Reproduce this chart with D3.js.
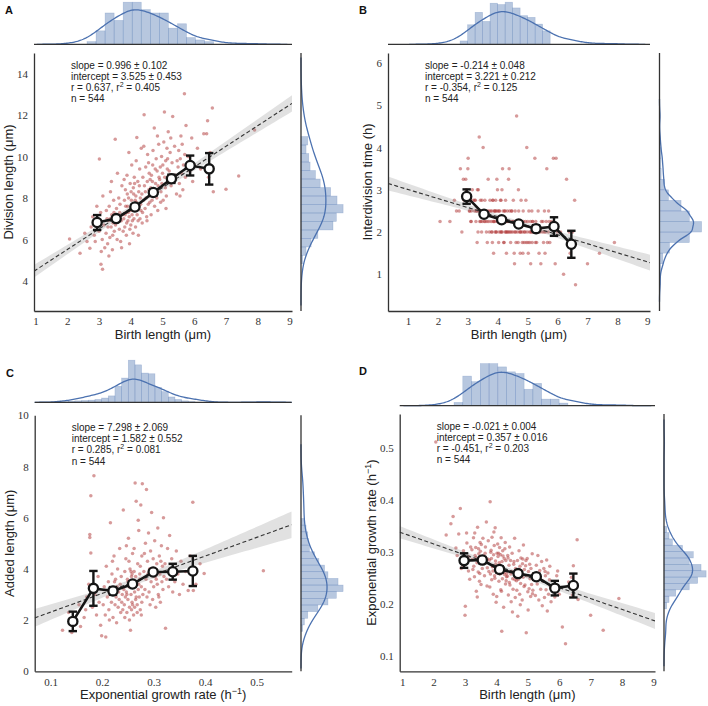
<!DOCTYPE html>
<html><head><meta charset="utf-8">
<script src="https://cdn.jsdelivr.net/npm/d3@7"></script>
<style>body{margin:0;background:#fff}svg{display:block}</style>
</head><body>
<svg id="chart" width="708" height="706"></svg>
<script>
// ================= DATA =================
// Shared per-cell values for panels A, B, D
const birthLength = [
 2.07,2.40,2.55,2.62,
 2.71,2.75,2.80,2.85,2.88,
 2.95,3.01,3.06,3.11,3.07,3.00,3.05,3.10,3.15,3.18,2.93,3.12,
 3.22,3.25,3.27,3.30,3.32,3.34,3.36,3.38,3.40,3.42,3.44,3.46,3.48,3.23,3.28,3.31,3.35,3.39,3.43,3.47,3.49,
 3.51,3.52,3.55,3.57,3.60,3.62,3.64,3.66,3.68,3.70,3.72,3.74,3.76,3.58,3.65,3.71,
 3.78,3.80,3.81,3.83,3.85,3.86,3.88,3.90,3.91,3.93,3.95,3.96,3.98,3.99,4.00,4.02,4.03,4.04,3.79,3.84,3.87,3.92,3.94,3.97,4.01,3.82,3.89,4.05,
 4.06,4.08,4.10,4.11,4.13,4.15,4.16,4.18,4.19,4.20,4.22,4.23,4.25,4.26,4.28,4.29,4.30,4.32,4.07,4.12,4.14,4.17,4.21,4.24,4.27,4.31,4.09,4.33,
 4.35,4.37,4.38,4.40,4.42,4.43,4.45,4.47,4.48,4.50,4.52,4.53,4.55,4.57,4.58,4.60,4.61,4.36,4.41,4.46,4.51,4.56,4.59,
 4.63,4.65,4.67,4.68,4.70,4.72,4.74,4.75,4.77,4.78,4.80,4.82,4.83,4.85,4.86,4.88,4.89,4.64,4.69,4.76,4.84,
 4.91,4.93,4.95,4.97,4.98,5.00,5.02,5.04,5.06,5.07,5.09,5.10,5.12,5.14,5.15,5.17,5.18,4.94,5.01,5.11,5.16,
 5.21,5.24,5.27,5.30,5.32,5.35,5.38,5.41,5.44,5.46,5.26,
 5.49,5.51,5.53,5.56,5.58,5.60,5.62,5.64,5.66,5.69,5.70,5.72,5.74,5.55,
 5.80,5.86,5.92,6.00,5.95,
 6.10,6.20,6.30,
 6.39,6.42,6.45,6.57,6.60,6.50,
 7.00,7.40,7.90];

const divisionLength = [
 6.03,5.34,6.30,5.90,
 5.58,6.60,7.10,6.20,5.90,
 6.90,9.88,4.81,4.56,5.42,6.40,7.30,6.00,6.70,5.60,7.60,8.10,
 6.3,7.0,5.8,6.9,7.6,6.1,8.3,6.6,7.2,5.5,6.8,7.9,6.4,7.4,6.6,5.2,7.0,8.8,6.2,7.3,6.9,
 10.84,6.7,7.5,6.0,7.1,8.0,6.5,7.7,5.9,6.9,8.6,7.2,6.4,9.2,7.3,5.6,
 7.0,7.9,6.6,8.4,7.3,6.2,9.1,7.6,6.9,8.0,7.1,5.8,8.7,7.4,6.7,7.9,9.6,7.2,8.9,7.6,6.8,7.3,10.2,6.5,8.3,7.2,8.2,6.9,
 7.7,8.5,7.0,9.0,7.5,6.6,8.1,7.8,10.92,7.2,8.8,6.9,8.3,7.6,9.4,7.0,8.0,7.4,6.3,8.7,7.9,9.8,7.6,6.2,8.6,7.7,8.2,10.4,
 8.2,7.3,9.0,7.9,12.02,8.6,7.5,9.5,8.0,7.1,8.8,10.1,7.7,8.4,9.2,7.8,8.9,6.8,10.5,8.3,6.9,9.7,8.1,
 8.5,9.1,7.9,8.8,10.3,8.2,11.38,7.6,9.4,8.7,9.9,8.0,9.3,7.4,8.6,10.6,9.0,7.2,9.6,8.4,11.0,
 8.9,9.5,8.3,10.0,8.7,9.2,7.9,10.7,12.15,9.0,8.5,9.8,8.1,10.4,9.4,8.8,11.2,7.8,9.6,7.5,9.9,
 9.3,10.2,8.6,9.7,11.94,8.9,10.5,9.1,8.2,9.8,10.9,
 9.5,10.3,8.7,9.9,11.0,9.2,10.6,8.4,9.6,13.03,10.1,9.0,11.5,8.1,
 10.0,9.3,10.9,9.6,8.8,
 10.4,9.4,11.1,
 11.1,11.73,9.0,12.34,8.3,10.2,
 8.43,9.07,11.29];

const interdivisionTime = [
 2.25,2.25,2.75,2.5,
 2.5,3.5,2.0,3.25,2.75,
 3.0,3.75,2.5,2.25,2.75,3.5,2.5,2.25,3.0,2.75,3.25,2.5,
 2.5,2.75,2.25,2.5,3.0,2.0,2.5,4.25,2.25,2.75,2.5,2.0,2.25,2.75,2.5,1.75,3.0,2.5,2.25,2.75,2.5,
 4.0,2.5,2.25,2.75,2.5,2.0,2.25,2.5,3.25,2.25,2.0,2.75,2.5,2.25,1.75,2.5,
 2.25,2.5,2.0,2.75,2.25,1.5,2.5,2.25,2.0,2.75,2.5,2.0,2.25,3.0,2.5,2.25,1.75,2.5,2.0,2.75,2.25,2.5,2.0,3.25,2.25,1.75,2.5,2.0,
 2.5,2.25,2.0,2.75,2.25,2.0,3.5,2.5,2.25,1.75,2.25,2.5,2.0,2.75,2.25,1.5,2.0,2.5,2.25,2.0,3.0,2.25,1.75,2.5,2.0,2.25,2.75,2.0,
 2.25,2.0,3.5,2.5,2.25,1.75,2.0,2.5,2.25,2.0,2.75,2.25,1.5,2.0,2.5,2.25,1.75,3.25,2.0,2.5,2.25,1.25,2.0,
 4.75,2.0,2.25,1.75,2.5,2.0,2.25,1.5,2.0,2.75,2.25,1.75,2.0,2.5,2.25,1.75,2.0,2.25,3.0,2.0,1.5,
 2.0,2.25,1.75,4.0,2.0,2.25,1.5,2.5,2.0,1.75,2.25,1.25,2.0,2.5,1.75,2.25,2.0,2.75,1.75,2.0,2.25,
 2.0,3.75,2.25,1.75,2.0,2.5,1.5,2.0,1.25,2.25,1.75,
 2.0,2.25,1.75,2.5,1.5,2.0,2.25,3.5,1.75,2.0,2.5,2.25,1.75,2.0,
 2.25,3.75,1.25,2.0,3.75,
 2.0,1.0,3.25,
 2.0,1.5,1.75,2.75,0.75,2.0,
 1.25,1.5,1.75];

const growthRate = [
 0.511,0.332,0.354,0.368,
 0.307,0.293,0.334,0.383,0.268,
 0.302,0.195,0.317,0.263,0.288,0.178,0.336,0.284,0.247,0.309,0.273,0.291,
 0.304,0.266,0.327,0.252,0.293,0.308,0.224,0.279,0.347,0.261,0.296,0.243,0.318,0.285,0.272,0.336,0.289,0.213,0.306,0.258,0.301,
 0.237,0.314,0.268,0.326,0.292,0.254,0.297,0.283,0.357,0.234,0.286,0.321,0.262,0.277,0.309,0.269,
 0.284,0.396,0.257,0.303,0.246,0.328,0.273,0.218,0.294,0.312,0.249,0.346,0.276,0.203,0.268,0.297,0.259,0.315,0.232,0.287,0.271,0.338,0.254,0.282,0.214,0.299,0.263,0.291,
 0.266,0.243,0.308,0.257,0.294,0.327,0.224,0.281,0.248,0.302,0.269,0.193,0.287,0.256,0.318,0.238,0.283,0.252,0.297,0.274,0.227,0.147,0.292,0.261,0.306,0.244,0.279,0.258,
 0.253,0.288,0.217,0.274,0.309,0.236,0.283,0.204,0.262,0.297,0.248,0.228,0.276,0.259,0.326,0.212,0.268,0.293,0.241,0.257,0.184,0.281,0.246,
 0.264,0.226,0.283,0.176,0.247,0.302,0.218,0.272,0.239,0.288,0.256,0.207,0.277,0.251,0.313,0.233,0.266,0.244,0.259,0.198,0.286,
 0.236,0.273,0.144,0.254,0.287,0.223,0.262,0.229,0.276,0.248,0.214,0.268,0.237,0.296,0.219,0.257,0.246,0.283,0.188,0.252,0.226,
 0.247,0.216,0.274,0.238,0.293,0.207,0.264,0.228,0.281,0.196,0.253,
 0.243,0.268,0.212,0.254,0.227,0.284,0.186,0.259,0.218,0.246,0.272,0.233,0.204,0.262,
 0.227,0.213,0.254,0.218,0.263,
 0.155,0.123,0.242,
 0.251,0.217,0.273,0.323,0.208,0.238,
 0.178,0.149,0.210];

// Panel C values
const growthRateC = [
 0.123,0.141,0.135,0.148,0.155,0.158,
 0.176,0.176,0.178,0.184,0.178,0.165,0.170,0.174,0.181,0.186,0.189,0.192,0.194,0.197,0.199,0.168,
 0.207,0.202,0.204,0.206,0.208,0.210,0.212,0.213,0.215,0.216,0.218,0.219,0.221,0.222,0.223,0.225,0.226,0.227,0.228,0.229,0.230,0.231,0.232,0.233,0.234,0.235,0.236,0.237,0.238,0.239,0.214,0.220,0.224,0.241,0.240,
 0.242,0.243,0.244,0.245,0.246,0.247,0.248,0.249,0.250,0.251,0.252,0.253,0.254,0.255,0.256,0.257,0.258,0.259,0.260,0.261,0.262,0.263,0.264,0.265,0.266,0.267,0.268,0.269,0.270,0.271,0.272,0.273,0.274,0.275,0.276,0.277,0.278,0.279,
 0.244,0.247,0.250,0.253,0.256,0.259,0.262,0.265,0.268,0.271,0.274,0.277,
 0.248,0.252,0.257,0.261,0.266,0.270,0.273,0.276,0.258,0.263,
 0.281,0.282,0.283,0.284,0.285,0.286,0.287,0.288,0.289,0.290,0.291,0.292,0.293,0.294,0.295,0.296,0.297,0.298,0.299,0.300,0.302,0.303,0.304,0.306,0.307,0.308,0.309,0.311,0.312,0.313,0.315,0.316,0.317,0.318,0.319,0.301,0.305,0.310,0.314,0.320,
 0.322,0.323,0.325,0.327,0.329,0.331,0.333,0.335,0.337,0.339,0.341,0.344,0.347,0.350,0.353,0.357,
 0.362,0.367,0.371,0.376,0.377,0.382,0.390,0.398,
 0.513];
const addedLength = [
 1.60,1.52,2.30,1.90,2.60,1.75,
 5.34,5.23,6.86,7.64,4.62,2.10,2.90,3.40,2.50,3.00,2.20,3.70,2.70,1.80,1.39,2.40,
 1.34,2.6,3.3,2.2,4.1,2.9,3.5,2.4,3.0,5.8,2.7,3.8,2.1,3.2,4.5,2.6,3.6,2.9,1.9,3.3,4.0,2.5,3.1,2.8,4.8,3.4,2.3,3.7,2.7,3.0,2.0,4.3,3.5,6.3,2.4,
 3.2,2.6,3.9,2.9,4.4,3.1,2.3,3.6,2.8,5.2,3.3,2.5,4.0,1.6,3.0,3.7,2.7,4.6,3.4,2.2,3.9,3.1,7.36,2.8,6.64,3.5,2.6,4.2,3.2,5.5,2.9,3.8,2.4,6.5,3.3,4.5,7.33,3.0,
 2.1,4.9,3.5,2.0,3.9,2.6,4.8,3.7,2.3,3.4,4.1,2.7,
 3.0,4.3,2.4,3.3,2.9,5.9,3.6,2.2,3.8,2.5,
 3.9,4.6,3.2,5.0,3.6,7.1,2.9,4.3,3.8,5.4,3.1,4.0,2.6,4.7,3.5,6.2,3.9,2.8,4.4,3.3,5.1,3.7,2.5,4.2,3.4,5.6,3.0,4.5,3.8,2.7,4.9,3.5,4.1,3.2,6.0,4.0,3.6,2.9,4.3,3.7,
 4.2,1.68,3.6,4.8,3.3,5.3,3.9,4.4,3.1,4.0,3.5,4.7,3.8,3.0,4.3,3.4,
 3.9,3.16,4.5,6.6,3.16,3.4,4.2,3.82,
 3.93];

// Binned means with error bars
const binA_x = [2.94,3.54,4.13,4.71,5.28,5.87,6.47];
const binA_y = [6.82,7.01,7.57,8.27,8.93,9.57,9.41];
const binA_err = [0.36,0.12,0.14,0.16,0.20,0.48,0.76];
const binB_x = [2.96,3.54,4.13,4.70,5.28,5.88,6.46];
const binB_y = [2.84,2.42,2.29,2.19,2.08,2.13,1.71];
const binB_err = [0.17,0.05,0.05,0.05,0.08,0.22,0.32];
const binC_x = [0.143,0.183,0.221,0.259,0.299,0.337,0.376];
const binC_y = [1.95,3.24,3.14,3.41,3.88,3.89,3.92];
const binC_err = [0.38,0.68,0.15,0.10,0.10,0.31,0.59];
const binD_x = [2.97,3.55,4.10,4.69,5.27,5.86,6.45];
const binD_y = [0.283,0.284,0.266,0.258,0.252,0.230,0.235];
const binD_err = [0.014,0.006,0.006,0.005,0.006,0.014,0.023];

// Regression statistics (A, B, C, D)
const regSlope = [0.996,-0.214,7.298,-0.021];
const regSlopeErr = [0.102,0.048,2.069,0.004];
const regIntercept = [3.525,3.221,1.582,0.357];
const regInterceptErr = [0.453,0.212,0.552,0.016];
const regR = [0.637,-0.354,0.285,-0.451];
const regR2 = [0.405,0.125,0.081,0.203];
const regN = [544,544,544,544];

// Marginal histograms: [first bin edge, bin width] and bar heights
const histTopA_bins = [2.62,0.285];
const histTopA = [8,40,93,71,125,125,103,93,93,48,61,20,13,8];
const histRightA_bins = [4.82,0.41];
const histRightA = [5,15,30,50,95,105,125,107,88,57,43,27,23,15,20];
const histTopB_bins = [2.74,0.251];
const histTopB = [10,58,95,68,122,118,125,108,85,80,60,40];
const histRightB_bins = [0.75,0.25];
const histRightB = [2,3,10,30,90,127,90,65,27,15,5,4,4];
const histTopC_bins = [0.1212,0.01295];
const histTopC = [2,3,4,5,6,8,12,18,45,68,118,105,82,80,42,30,15,8,4,2];
const histRightC_bins = [1.55,0.26];
const histRightC = [5,10,20,50,80,105,125,110,80,70,53,40,25,22,20,15,10];
const histTopD_bins = [2.65,0.279];
const histTopD = [10,90,73,128,128,118,103,98,50,68,20,20,8];
const histRightD_bins = [0.190,0.01225];
const histRightD = [8,15,35,75,100,125,110,75,87,55,25,15,8];

// Tick values
const ticksBirth = [1,2,3,4,5,6,7,8,9];
const ticksA_y = [4,6,8,10,12,14];
const ticksB_y = [1,2,3,4,5,6];
const ticksC_x = [0.1,0.2,0.3,0.4,0.5];
const ticksC_y = [0,2,4,6,8,10];
const ticksD_y = [0.1,0.2,0.3,0.4,0.5];

// Labels
const panelLetters = ["A","B","C","D"];
const xTitles = ["Birth length (μm)","Birth length (μm)","Exponential growth rate (h|−1|)","Birth length (μm)"];
const yTitles = ["Division length (μm)","Interdivision time (h)","Added length (μm)","Exponential growth rate (h|−1|)"];

// ================= LAYOUT =================
const layout = [
 {lx:5,ly:13.5,left:34,right:292,top:53,bottom:311,xDom:[0.95,9.08],yDom:[2.55,15.0],mBase:44.3,mRight:301,yOff:21.5},
 {lx:359,ly:13.5,left:388,right:650,top:53,bottom:311,xDom:[0.33,9.09],yDom:[0.13,6.24],mBase:44.3,mRight:659.5,yOff:16},
 {lx:6,ly:376.5,left:34.7,right:291.7,top:415.3,bottom:671.3,xDom:[0.069,0.568],yDom:[0,10],mBase:402.3,mRight:301,yOff:20.7},
 {lx:359,ly:375,left:399.7,right:655,top:414,bottom:671.3,xDom:[0.92,9.05],yDom:[0.07,0.565],mBase:405.7,mRight:664,yOff:24}
];

const panels = [
 {x:birthLength,y:divisionLength,bx:binA_x,by:binA_y,be:binA_err,ht:histTopA,htb:histTopA_bins,hr:histRightA,hrb:histRightA_bins,xt:ticksBirth,yt:ticksA_y},
 {x:birthLength,y:interdivisionTime,bx:binB_x,by:binB_y,be:binB_err,ht:histTopB,htb:histTopB_bins,hr:histRightB,hrb:histRightB_bins,xt:ticksBirth,yt:ticksB_y},
 {x:growthRateC,y:addedLength,bx:binC_x,by:binC_y,be:binC_err,ht:histTopC,htb:histTopC_bins,hr:histRightC,hrb:histRightC_bins,xt:ticksC_x,yt:ticksC_y},
 {x:birthLength,y:growthRate,bx:binD_x,by:binD_y,be:binD_err,ht:histTopD,htb:histTopD_bins,hr:histRightD,hrb:histRightD_bins,xt:ticksBirth,yt:ticksD_y}
];

// ================= DRAWING =================
const svg = d3.select("#chart");
const SERIF = "'Liberation Serif','Times New Roman',serif";
const SANS = "'Liberation Sans',Arial,sans-serif";
const SPINE = "#333";
const BLUE = "#4c72b0";
const MARG = 44;
const tickFmt = d => String(d);

function kdeFn(values){
  const s = values.slice().sort(d3.ascending);
  const sd = d3.deviation(s);
  const iqr = d3.quantile(s,0.75) - d3.quantile(s,0.25);
  const a = Math.min(sd, iqr > 0 ? iqr/1.349 : sd);
  const bw = 1.059 * a * Math.pow(s.length, -0.2);
  const f = x => d3.mean(s, v => Math.exp(-0.5*((x-v)/bw)**2)) / (bw*Math.sqrt(2*Math.PI));
  return {f, bw, min:s[0], max:s[s.length-1]};
}
function histDensity(h, bins){
  const tot = d3.sum(h) * bins[1];
  return h.map((v,i) => ({x0:bins[0]+i*bins[1], x1:bins[0]+(i+1)*bins[1], d:v/tot}));
}
function fmt(v){ return d3.format(".3f")(v).replace("\u2212","-"); }
function addTitle(sel, str){
  const parts = str.split("|");
  sel.append("tspan").text(parts[0]);
  if(parts.length > 1){
    sel.append("tspan").attr("dy",-5).attr("font-size",9).text(parts[1]);
    sel.append("tspan").attr("dy",5).text(parts[2]);
  }
}

panels.forEach((p, k) => {
  const L = layout[k];
  const g = svg.append("g");
  const xs = d3.scaleLinear().domain(L.xDom).range([L.left, L.right]);
  const ys = d3.scaleLinear().domain(L.yDom).range([L.bottom, L.top]);
  const n = Math.min(p.x.length, p.y.length);
  const pts = d3.range(n).map(i => [p.x[i], p.y[i]]);

  const clipId = "clip" + k;
  svg.append("clipPath").attr("id", clipId).append("rect")
    .attr("x", L.left).attr("y", L.top).attr("width", L.right-L.left).attr("height", L.bottom-L.top);
  const main = g.append("g").attr("clip-path", `url(#${clipId})`);

  // scatter
  main.append("g").selectAll("circle").data(pts).join("circle")
    .attr("cx", d => xs(d[0])).attr("cy", d => ys(d[1])).attr("r", 1.75)
    .attr("fill", "#b03535").attr("fill-opacity", 0.5);

  // regression band + line
  const xm = d3.mean(p.x);
  const sl = regSlope[k], ic = regIntercept[k], se = regSlopeErr[k], ie = regInterceptErr[k];
  const grid = d3.range(0, 61).map(i => L.xDom[0] + (L.xDom[1]-L.xDom[0])*i/60);
  const hw = x => 0.8*Math.sqrt((0.3*ie)**2 + ((x-xm)*se)**2);
  main.append("path").datum(grid)
    .attr("d", d3.area().x(x => xs(x)).y0(x => ys(sl*x+ic-hw(x))).y1(x => ys(sl*x+ic+hw(x))))
    .attr("fill", "#888").attr("fill-opacity", 0.25);
  main.append("path").datum(grid)
    .attr("d", d3.line().x(x => xs(x)).y(x => ys(sl*x+ic)))
    .attr("fill","none").attr("stroke","#333").attr("stroke-width",1.1).attr("stroke-dasharray","4,2.5");

  // binned means
  const bins = p.bx.map((x,i) => ({x, y:p.by[i], e:p.be[i]}));
  const bg = g.append("g");
  bg.append("path").datum(bins)
    .attr("d", d3.line().x(d => xs(d.x)).y(d => ys(d.y)))
    .attr("fill","none").attr("stroke","#151515").attr("stroke-width",2.6);
  bins.forEach(d => {
    const cx = xs(d.x), y0 = ys(d.y-d.e), y1 = ys(d.y+d.e);
    bg.append("line").attr("x1",cx).attr("x2",cx).attr("y1",y0).attr("y2",y1).attr("stroke","#151515").attr("stroke-width",2.4);
    [y0,y1].forEach(yy => bg.append("line").attr("x1",cx-4.2).attr("x2",cx+4.2).attr("y1",yy).attr("y2",yy).attr("stroke","#151515").attr("stroke-width",2.4));
  });
  bg.selectAll("circle").data(bins).join("circle")
    .attr("cx", d => xs(d.x)).attr("cy", d => ys(d.y)).attr("r", 4.6)
    .attr("fill","#fff").attr("stroke","#151515").attr("stroke-width",2.3);

  // axes
  const ax = g.append("g").attr("transform",`translate(0,${L.bottom})`)
    .call(d3.axisBottom(xs).tickValues(p.xt).tickFormat(tickFmt).tickSize(0).tickSizeOuter(0).tickPadding(6.5));
  const ay = g.append("g").attr("transform",`translate(${L.left},0)`)
    .call(d3.axisLeft(ys).tickValues(p.yt).tickFormat(tickFmt).tickSize(0).tickSizeOuter(0).tickPadding(6));
  [ax, ay].forEach(a => {
    a.attr("font-family", SERIF);
    a.select(".domain").attr("stroke", SPINE).attr("stroke-width", 1.3);
    a.selectAll("text").attr("font-family", SERIF).attr("font-size", 11).attr("fill", "#333");
  });

  // axis titles
  const xt = g.append("text").attr("x", (L.left+L.right)/2).attr("y", L.bottom+28)
    .attr("text-anchor","middle").attr("font-family",SANS).attr("font-size",13).attr("fill","#222");
  addTitle(xt, xTitles[k]);
  const yt = g.append("text")
    .attr("transform",`translate(${L.left-L.yOff},${(L.top+L.bottom)/2}) rotate(-90)`)
    .attr("text-anchor","middle").attr("font-family",SANS).attr("font-size",13).attr("fill","#222");
  addTitle(yt, yTitles[k]);

  // stats text
  const st = g.append("text").attr("font-family",SANS).attr("font-size",10).attr("fill","#222");
  const sx = L.left + 37, sy = L.top + 15.5, lh = 11.3;
  st.append("tspan").attr("x",sx).attr("y",sy).text(`slope = ${fmt(regSlope[k])} \u00b1 ${fmt(regSlopeErr[k])}`);
  st.append("tspan").attr("x",sx).attr("y",sy+lh).text(`intercept = ${fmt(regIntercept[k])} \u00b1 ${fmt(regInterceptErr[k])}`);
  st.append("tspan").attr("x",sx).attr("y",sy+2*lh).text(`r = ${fmt(regR[k])}, r`);
  st.append("tspan").attr("dy",-4).attr("font-size",7).text("2");
  st.append("tspan").attr("dy",4).text(` = ${fmt(regR2[k])}`);
  st.append("tspan").attr("x",sx).attr("y",sy+3*lh).text(`n = ${regN[k]}`);

  // panel letter
  g.append("text").attr("x",L.lx).attr("y",L.ly).attr("font-family",SANS).attr("font-weight","bold")
    .attr("font-size",11).attr("fill","#111").text(panelLetters[k]);

  // ---- top marginal ----
  const topH = histDensity(p.ht, p.htb);
  const kx = kdeFn(p.x);
  const gx = d3.range(0, 201).map(i => {
    const a = Math.max(L.xDom[0], kx.min-3*kx.bw), b = Math.min(L.xDom[1], kx.max+3*kx.bw);
    return a + (b-a)*i/200;
  });
  const kxv = gx.map(x => [x, kx.f(x)]);
  const mt = d3.scaleLinear().domain([0, Math.max(d3.max(topH, d=>d.d), d3.max(kxv, d=>d[1]))*1.045]).range([L.mBase, L.mBase-MARG]);
  const tg = g.append("g");
  tg.selectAll("rect").data(topH).join("rect")
    .attr("x", d => xs(d.x0)).attr("width", d => xs(d.x1)-xs(d.x0))
    .attr("y", d => mt(d.d)).attr("height", d => L.mBase - mt(d.d))
    .attr("fill", BLUE).attr("fill-opacity", 0.4).attr("stroke", BLUE).attr("stroke-opacity", 0.3).attr("stroke-width", 0.6);
  tg.append("path").datum(kxv).attr("d", d3.line().x(d => xs(d[0])).y(d => mt(d[1])))
    .attr("fill","none").attr("stroke",BLUE).attr("stroke-width",1.3);
  tg.append("line").attr("x1",L.left).attr("x2",L.right).attr("y1",L.mBase).attr("y2",L.mBase)
    .attr("stroke",SPINE).attr("stroke-width",1.3);

  // ---- right marginal ----
  const rightH = histDensity(p.hr, p.hrb);
  const ky = kdeFn(p.y);
  const gy = d3.range(0, 201).map(i => {
    const a = Math.max(L.yDom[0], ky.min-3*ky.bw), b = Math.min(L.yDom[1], ky.max+3*ky.bw);
    return a + (b-a)*i/200;
  });
  const kyv = gy.map(y => [y, ky.f(y)]);
  const mr = d3.scaleLinear().domain([0, Math.max(d3.max(rightH, d=>d.d), d3.max(kyv, d=>d[1]))*1.045]).range([L.mRight, L.mRight+MARG]);
  const rg = g.append("g");
  rg.selectAll("rect").data(rightH).join("rect")
    .attr("y", d => ys(d.x1)).attr("height", d => ys(d.x0)-ys(d.x1))
    .attr("x", L.mRight).attr("width", d => mr(d.d) - L.mRight)
    .attr("fill", BLUE).attr("fill-opacity", 0.4).attr("stroke", BLUE).attr("stroke-opacity", 0.3).attr("stroke-width", 0.6);
  rg.append("path").datum(kyv).attr("d", d3.line().x(d => mr(d[1])).y(d => ys(d[0])))
    .attr("fill","none").attr("stroke",BLUE).attr("stroke-width",1.3);
  rg.append("line").attr("x1",L.mRight).attr("x2",L.mRight).attr("y1",L.top).attr("y2",L.bottom)
    .attr("stroke",SPINE).attr("stroke-width",1.3);
});
</script>
</body></html>
